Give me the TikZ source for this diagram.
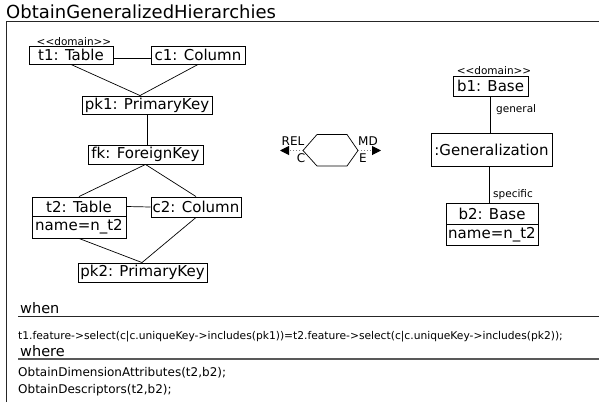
\documentclass[tikz,border=0pt]{standalone}
\usepackage{fontspec}
\setmainfont{DejaVu Sans}
\usetikzlibrary{arrows.meta}
% stereotype brackets kept apart so they are not joined into guillemets
\newcommand{\stereotypetext}[1]{<\kern0pt<#1>\kern0pt>}
\begin{document}
\begin{tikzpicture}[x=1pt,y=-1pt,
  obj/.style={draw, line width=0.9pt, inner sep=0pt, anchor=center,
              font=\fontsize{15}{17}\selectfont},
  stereo/.style={inner sep=0pt, font=\fontsize{10.5}{11}\selectfont},
  role/.style={inner sep=0pt, anchor=west, font=\fontsize{10.5}{12}\selectfont},
  end/.style={inner sep=0pt, anchor=center, font=\fontsize{12}{13}\selectfont},
  link/.style={line width=0.7pt},
  dep/.style={dotted, line width=1pt, gray,
              -{Triangle[black,length=9pt,width=9pt]}},
  frame/.style={line width=1pt, black!85},
  head/.style={inner sep=0pt, anchor=base west, font=\fontsize{14.5}{16}\selectfont},
  code/.style={inner sep=0pt, anchor=west, font=\fontsize{10.7}{12}\selectfont},
  stmt/.style={inner sep=0pt, anchor=west, font=\fontsize{12}{14}\selectfont}]
\useasboundingbox (0,0) rectangle (599,402);
\fill[white] (0,0) rectangle (599,402);

% rule frame and title
\node[inner sep=0pt, anchor=base west, font=\fontsize{18}{20}\selectfont]
  (title) at (6,18.5) {ObtainGeneralizedHierarchies};
\draw[frame] (6,402) -- (6,21) -- (599,21);

% left pattern: relational side
\node[stereo] (t1s) at (74,42) {\stereotypetext{domain}};
\node[obj, minimum width=84pt, minimum height=18pt] (t1) at (71,55) {t1: Table};
\node[obj, minimum width=94pt, minimum height=18pt] (c1) at (198,55) {c1: Column};
\node[obj, minimum width=130pt, minimum height=18pt] (pk1) at (147,105) {pk1: PrimaryKey};
\node[obj, minimum width=115pt, minimum height=19pt] (fk) at (145.5,154.5) {fk: ForeignKey};
\node[obj, minimum width=94pt, minimum height=19pt] (t2) at (79,206.5) {t2: Table};
\node[obj, minimum width=94pt, minimum height=22pt] (t2a) at (79,227) {name=n\_t2};
\node[obj, minimum width=90pt, minimum height=20pt] (c2) at (196,207) {c2: Column};
\node[obj, minimum width=129pt, minimum height=19pt] (pk2) at (142.5,272.5) {pk2: PrimaryKey};

\coordinate (pk1top) at ([xshift=-7pt]pk1.north);
\coordinate (pk2top) at ([xshift=-0.5pt]pk2.north);
\coordinate (fktop) at (pk1.south |- fk.north);
\draw[link] ([yshift=-3pt]t1.east) -- ([yshift=-3pt]c1.west);
\draw[link] (t1.south) -- (pk1top);
\draw[link] (c1.south) -- (pk1top);
\draw[link] (pk1.south) -- (fktop);
\draw[link] (fk.south) -- (t2.north);
\draw[link] (fk.south) -- (c2.north);
\draw[link] (t2.east) -- (c2.west);
\draw[link] (t2a.south) -- (pk2top);
\draw[link] (c2.south) -- (pk2top);

% relation between the two sides
\coordinate (hl) at (303,150.5);
\coordinate (hr) at (358,150.5);
\coordinate (relend) at (280,150.5);
\coordinate (mdend) at (381,150.5);
\draw[link] (hl) -- (317,134.5) -- (347,134.5) -- (hr) -- (347,166) -- (317,166) -- cycle;
\draw[dep] (hl) -- (relend);
\draw[dep] (hr) -- (mdend);
\node[end] (rel) at (293,141) {REL};
\node[end] (relc) at (301,158) {C};
\node[end] (md) at (368,141) {MD};
\node[end] (mde) at (363,158) {E};

% right pattern: multidimensional side
\node[stereo] (b1s) at (494,71) {\stereotypetext{domain}};
\node[obj, minimum width=75pt, minimum height=20pt] (b1) at (490.5,86) {b1: Base};
\node[obj, minimum width=121pt, minimum height=33pt] (gen) at (491.5,149.5) {:Generalization};
\node[obj, minimum width=92pt, minimum height=21pt] (b2) at (492,213.5) {b2: Base};
\node[obj, minimum width=92pt, minimum height=21pt] (b2a) at (492,234.5) {name=n\_t2};
\draw[link] (b1.south) -- (b1.south |- gen.north);
\draw[link] ([xshift=-2.5pt]gen.south) -- ([xshift=-2.5pt]gen.south |- b2.north);
\node[role] (lgen) at (496,110) {general};
\node[role] (lspec) at (493,195) {specific};

% when / where clauses
\node[head] (when) at (20,313) {when};
\draw[frame] (18,316) -- (599,316);
\node[code] (cond) at (18,337)
  {t1.feature->select(c|c.uniqueKey->includes(pk1))=t2.feature->select(c|c.uniqueKey->includes(pk2));};
\node[head] (where) at (20,356) {where};
\draw[line width=1.5pt, black!65] (18,359) -- (599,359);
\node[stmt] (w1) at (18,373) {ObtainDimensionAttributes(t2,b2);};
\node[stmt] (w2) at (18,390) {ObtainDescriptors(t2,b2);};
\end{tikzpicture}
\end{document}
